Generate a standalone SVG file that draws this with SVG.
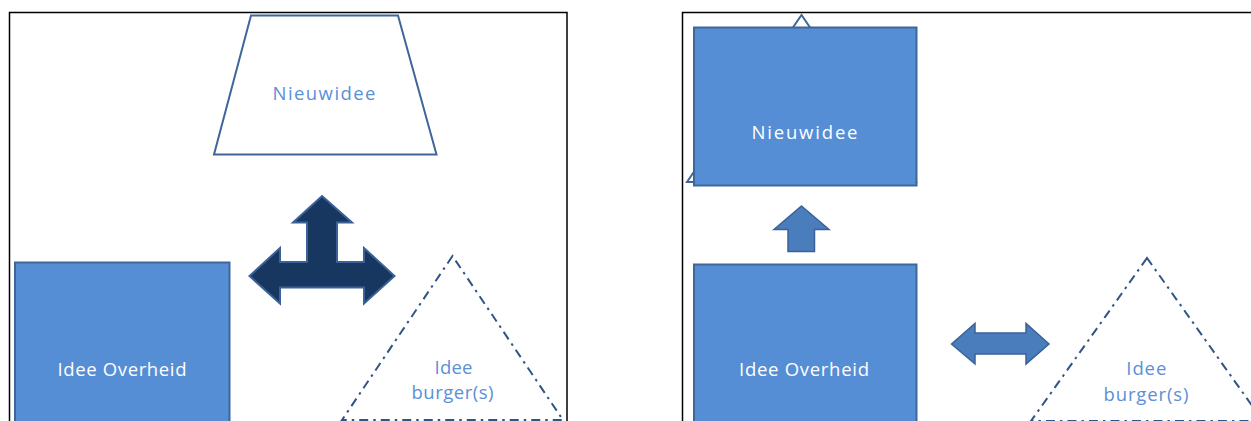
<svg xmlns="http://www.w3.org/2000/svg" width="1251" height="421" viewBox="0 0 1251 421">
<style>
.frame{fill:none;stroke:#000;stroke-width:1.5}
.box{fill:#558ED5;stroke:#3E6699;stroke-width:2}
.outline{fill:#fff;stroke:#3E6699;stroke-width:2}
.dashtri{fill:none;stroke:#2F5486;stroke-width:2;stroke-dasharray:9 5 2.5 5}
.navy{fill:#183760;stroke:#3A6298;stroke-width:2;stroke-linejoin:miter}
.mid{fill:#4A7DBB;stroke:#3A6298;stroke-width:1.5}
text{font-family:"Open Sans","Liberation Sans",sans-serif;font-size:18.5px;text-anchor:middle}
.w{fill:#fff}
.lb{fill:#5B8FD8}
</style>
<rect class="frame" x="9.5" y="12.5" width="557.5" height="430"/>
<rect class="frame" x="682.5" y="12.5" width="600" height="430"/>

<g id="left-nieuwidee">
<polygon class="outline" points="251,15.5 398,15.5 436.5,154.5 214,154.5"/>
<text class="lb" x="324" y="99.5" textLength="103" lengthAdjust="spacing">Nieuwidee</text>
</g>
<g id="left-idee-overheid">
<rect class="box" x="15" y="262.5" width="214.5" height="170"/>
<text class="w" x="122" y="375.5" textLength="129" lengthAdjust="spacing">Idee Overheid</text>
</g>
<g id="left-idee-burgers">
<polygon class="dashtri" points="452.5,256 342,420 563,420"/>
<text class="lb" x="453.5" y="373.5" textLength="38" lengthAdjust="spacing">Idee</text>
<text class="lb" x="452.5" y="398.5" textLength="82" lengthAdjust="spacing">burger(s)</text>
</g>

<g id="right-hidden-triangle">
<polygon class="outline" points="801.5,15 687,182 916,182"/>
</g>
<g id="right-nieuwidee">
<rect class="box" x="694" y="27.5" width="222.5" height="158"/>
<text class="w" x="804.5" y="138.5" textLength="106" lengthAdjust="spacing">Nieuwidee</text>
</g>
<g id="right-idee-overheid">
<rect class="box" x="694" y="264.5" width="222.5" height="170"/>
<text class="w" x="804" y="375.5" textLength="130" lengthAdjust="spacing">Idee Overheid</text>
</g>
<g id="right-idee-burgers">
<polygon class="dashtri" points="1147,258 1031,421 1263,421"/>
<text class="lb" x="1146.3" y="374.5" textLength="40" lengthAdjust="spacing">Idee</text>
<text class="lb" x="1146" y="400.5" textLength="85" lengthAdjust="spacing">burger(s)</text>
</g>

<g id="connectors">
<polygon class="navy" points="322,196 352,222.5 337,222.5 337,262 364,262 364,248 394.5,276 364,303.5 364,287.5 280,287.5 280,303.5 249.5,276 280,248 280,262 307,262 307,222.5 293,222.5"/>
<polygon class="mid" points="801.5,206 829,229.5 814.5,229.5 814.5,251.5 788,251.5 788,229.5 774,229.5"/>
<polygon class="mid" points="951.5,344 975,323.5 975,333 1026,333 1026,323.5 1049,344 1026,364 1026,354 975,354 975,364"/>
</g>
</svg>
